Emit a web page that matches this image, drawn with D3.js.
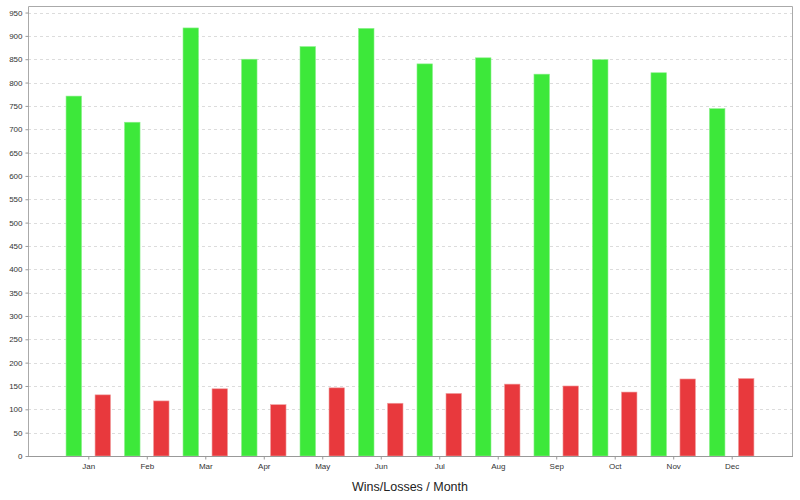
<!DOCTYPE html>
<html><head><meta charset="utf-8">
<script src="https://cdn.jsdelivr.net/npm/d3@7"></script>
<style>body{margin:0;background:#fff;font-family:"Liberation Sans",Arial,sans-serif}</style>
</head><body><svg id="c" width="800" height="500"></svg>
<script>
const months = ["Jan","Feb","Mar","Apr","May","Jun","Jul","Aug","Sep","Oct","Nov","Dec"];
const wins =   [771, 715, 917, 850, 877, 916, 840, 853, 818, 849, 821, 744];
const losses = [131, 118, 144, 110, 146, 113, 134, 154, 150, 137, 165, 166];
const yTicks = d3.range(0, 951, 50);
const title = "Wins/Losses / Month";

const svg = d3.select("#c");
const L = 28, R = 792, T = 6, B = 456;
const y = d3.scaleLinear().domain([0, 964]).range([B, T]);
const x = d3.scalePoint().domain(months).range([88.3, 731.7]);

svg.append("rect").attr("width",800).attr("height",500).attr("fill","#fff");

// grid
svg.append("g").selectAll("line").data(yTicks.filter(d=>d>0)).join("line")
  .attr("x1",L).attr("x2",R).attr("y1",d=>Math.round(y(d))+0.5).attr("y2",d=>Math.round(y(d))+0.5)
  .attr("stroke","#dcdcdc").attr("stroke-dasharray","3,3").attr("stroke-width",1);

// frame
svg.append("path").attr("d",`M${L+0.5},${B}V${T+0.5}H${R+0.5}V${B}`).attr("fill","none").attr("stroke","#aaa");

// bars
const bw = 15.5, off = 14.5;
svg.append("g").selectAll("rect").data(wins).join("rect")
  .attr("x",(d,i)=>x(months[i])-off-bw/2).attr("width",bw)
  .attr("y",d=>y(d)).attr("height",d=>B-y(d))
  .attr("fill","#3de83a").attr("stroke","#8af08a").attr("stroke-width",0.6);
svg.append("g").selectAll("rect").data(losses).join("rect")
  .attr("x",(d,i)=>x(months[i])+off-bw/2).attr("width",bw)
  .attr("y",d=>y(d)).attr("height",d=>B-y(d))
  .attr("fill","#e8393d").attr("stroke","#f0a0a0").attr("stroke-width",0.6);

// y axis
const ya = svg.append("g").attr("transform",`translate(${L+0.5},0)`)
  .call(d3.axisLeft(y).tickValues(yTicks).tickSize(3).tickPadding(3));
ya.select(".domain").remove();
ya.selectAll("line").attr("stroke","#999");
ya.selectAll("text").attr("font-size","8px").attr("fill","#333").attr("font-family","Liberation Sans, Arial, sans-serif");

// x axis
const xa = svg.append("g").attr("transform",`translate(0,${B+0.5})`)
  .call(d3.axisBottom(x).tickSize(3).tickPadding(4));
xa.select(".domain").attr("d",`M${L},0H${R+1}`).attr("stroke","#999");
xa.selectAll("line").attr("stroke","#999");
xa.selectAll("text").attr("font-size","8px").attr("fill","#333").attr("font-family","Liberation Sans, Arial, sans-serif");

svg.append("text").attr("x",410).attr("y",491).attr("text-anchor","middle")
  .attr("font-size","12.5px").attr("fill","#222").text(title);
</script></body></html>
